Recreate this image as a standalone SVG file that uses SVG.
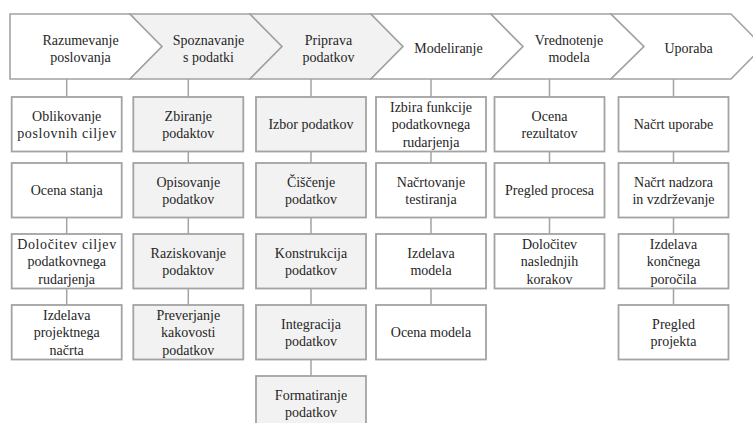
<svg xmlns="http://www.w3.org/2000/svg" width="753" height="423" viewBox="0 0 753 423">
<style>
.chev{stroke:#a3a3a3;stroke-width:1.6;stroke-linejoin:miter}
.w{fill:#ffffff}
.g{fill:#f2f2f2}
.box{stroke:#a3a3a3;stroke-width:1.8}
.conn line{stroke:#a3a3a3;stroke-width:1.5}
text{font-family:'Liberation Serif','DejaVu Serif','Times New Roman',serif;font-size:14px;fill:#262626;text-anchor:middle}
</style>
<rect x="0" y="0" width="753" height="423" fill="#ffffff"/>
<g font-family="Liberation Serif, DejaVu Serif, serif">
<!-- header chevrons -->
<g id="h1"><path class="chev w" d="M10,14 H130 L162,46.5 L130,79 H10 Z"/><text x="80.5" y="45">Razumevanje</text><text x="80.5" y="61.5">poslovanja</text></g>
<g id="h2"><path class="chev g" d="M130,14 H250 L282,46.5 L250,79 H130 L162,46.5 Z"/><text x="208.5" y="45">Spoznavanje</text><text x="208.5" y="61.5">s podatki</text></g>
<g id="h3"><path class="chev g" d="M250,14 H371 L403,46.5 L371,79 H250 L282,46.5 Z"/><text x="328.5" y="45">Priprava</text><text x="328.5" y="61.5">podatkov</text></g>
<g id="h4"><path class="chev w" d="M371,14 H491 L523,46.5 L491,79 H371 L403,46.5 Z"/><text x="448.5" y="52.5">Modeliranje</text></g>
<g id="h5"><path class="chev w" d="M491,14 H611 L644,46.5 L611,79 H491 L523,46.5 Z"/><text x="569" y="45">Vrednotenje</text><text x="569" y="61.5">modela</text></g>
<g id="h6"><path class="chev w" d="M611,14 H731 L763,46.5 L731,79 H611 L644,46.5 Z"/><text x="688.5" y="52.5">Uporaba</text></g>
<!-- connectors -->
<g id="connectors" class="conn">
<line x1="66.7" y1="79" x2="66.7" y2="306"/>
<line x1="188.3" y1="79" x2="188.3" y2="306"/>
<line x1="311" y1="79" x2="311" y2="377"/>
<line x1="431" y1="79" x2="431" y2="306"/>
<line x1="549.5" y1="79" x2="549.5" y2="235"/>
<line x1="673.5" y1="79" x2="673.5" y2="306"/>
</g>
<!-- column 1 -->
<g id="c1r1"><rect class="box w" x="11.7" y="97" width="110" height="54.5"/><text x="66.7" y="120.5">Oblikovanje</text><text x="66.7" y="137.8" textLength="99" lengthAdjust="spacing">poslovnih ciljev</text></g>
<g id="c1r2"><rect class="box w" x="11.7" y="163" width="110" height="54.5"/><text x="66.7" y="194.5">Ocena stanja</text></g>
<g id="c1r3"><rect class="box w" x="11.7" y="234" width="110" height="54.5"/><text x="66.7" y="248.5" textLength="99" lengthAdjust="spacing">Določitev ciljev</text><text x="66.7" y="266">podatkovnega</text><text x="66.7" y="283.5">rudarjenja</text></g>
<g id="c1r4"><rect class="box w" x="11.7" y="305" width="110" height="54.5"/><text x="66.7" y="319.5">Izdelava</text><text x="66.7" y="337">projektnega</text><text x="66.7" y="354.5">načrta</text></g>
<!-- column 2 -->
<g id="c2r1"><rect class="box g" x="133.3" y="97" width="110" height="54.5"/><text x="188.3" y="120.5">Zbiranje</text><text x="188.3" y="137.8">podaktov</text></g>
<g id="c2r2"><rect class="box g" x="133.3" y="163" width="110" height="54.5"/><text x="188.3" y="186.5">Opisovanje</text><text x="188.3" y="203.8">podatkov</text></g>
<g id="c2r3"><rect class="box g" x="133.3" y="234" width="110" height="54.5"/><text x="188.3" y="257.5">Raziskovanje</text><text x="188.3" y="274.8">podaktov</text></g>
<g id="c2r4"><rect class="box g" x="133.3" y="305" width="110" height="54.5"/><text x="188.3" y="319.5">Preverjanje</text><text x="188.3" y="337">kakovosti</text><text x="188.3" y="354.5">podatkov</text></g>
<!-- column 3 -->
<g id="c3r1"><rect class="box g" x="256" y="97" width="110" height="54.5"/><text x="311" y="128.8">Izbor podatkov</text></g>
<g id="c3r2"><rect class="box g" x="256" y="163" width="110" height="54.5"/><text x="311" y="186.5">Čiščenje</text><text x="311" y="203.8">podatkov</text></g>
<g id="c3r3"><rect class="box g" x="256" y="234" width="110" height="54.5"/><text x="311" y="257.5">Konstrukcija</text><text x="311" y="274.8">podatkov</text></g>
<g id="c3r4"><rect class="box g" x="256" y="305" width="110" height="54.5"/><text x="311" y="328.5">Integracija</text><text x="311" y="345.8">podatkov</text></g>
<g id="c3r5"><rect class="box g" x="256" y="376" width="110" height="54.5"/><text x="311" y="399.5">Formatiranje</text><text x="311" y="416.8">podatkov</text></g>
<!-- column 4 -->
<g id="c4r1"><rect class="box w" x="376" y="97" width="110" height="54.5"/><text x="431" y="111.8">Izbira funkcije</text><text x="431" y="129.3">podatkovnega</text><text x="431" y="146.8">rudarjenja</text></g>
<g id="c4r2"><rect class="box w" x="376" y="163" width="110" height="54.5"/><text x="431" y="186.5">Načrtovanje</text><text x="431" y="203.8">testiranja</text></g>
<g id="c4r3"><rect class="box w" x="376" y="234" width="110" height="54.5"/><text x="431" y="257.5">Izdelava</text><text x="431" y="274.8">modela</text></g>
<g id="c4r4"><rect class="box w" x="376" y="305" width="110" height="54.5"/><text x="431" y="336.8">Ocena modela</text></g>
<!-- column 5 -->
<g id="c5r1"><rect class="box w" x="494.5" y="97" width="110" height="54.5"/><text x="549.5" y="120.5">Ocena</text><text x="549.5" y="137.8">rezultatov</text></g>
<g id="c5r2"><rect class="box w" x="494.5" y="163" width="110" height="54.5"/><text x="549.5" y="194.5">Pregled procesa</text></g>
<g id="c5r3"><rect class="box w" x="494.5" y="234" width="110" height="54.5"/><text x="549.5" y="248.5">Določitev</text><text x="549.5" y="266">naslednjih</text><text x="549.5" y="283.5">korakov</text></g>
<!-- column 6 -->
<g id="c6r1"><rect class="box w" x="618.5" y="97" width="110" height="54.5"/><text x="673.5" y="128.8">Načrt uporabe</text></g>
<g id="c6r2"><rect class="box w" x="618.5" y="163" width="110" height="54.5"/><text x="673.5" y="186.5">Načrt nadzora</text><text x="673.5" y="203.8">in vzdrževanje</text></g>
<g id="c6r3"><rect class="box w" x="618.5" y="234" width="110" height="54.5"/><text x="673.5" y="248.5">Izdelava</text><text x="673.5" y="266">končnega</text><text x="673.5" y="283.5">poročila</text></g>
<g id="c6r4"><rect class="box w" x="618.5" y="305" width="110" height="54.5"/><text x="673.5" y="328.5">Pregled</text><text x="673.5" y="345.8">projekta</text></g>
</g>
</svg>
